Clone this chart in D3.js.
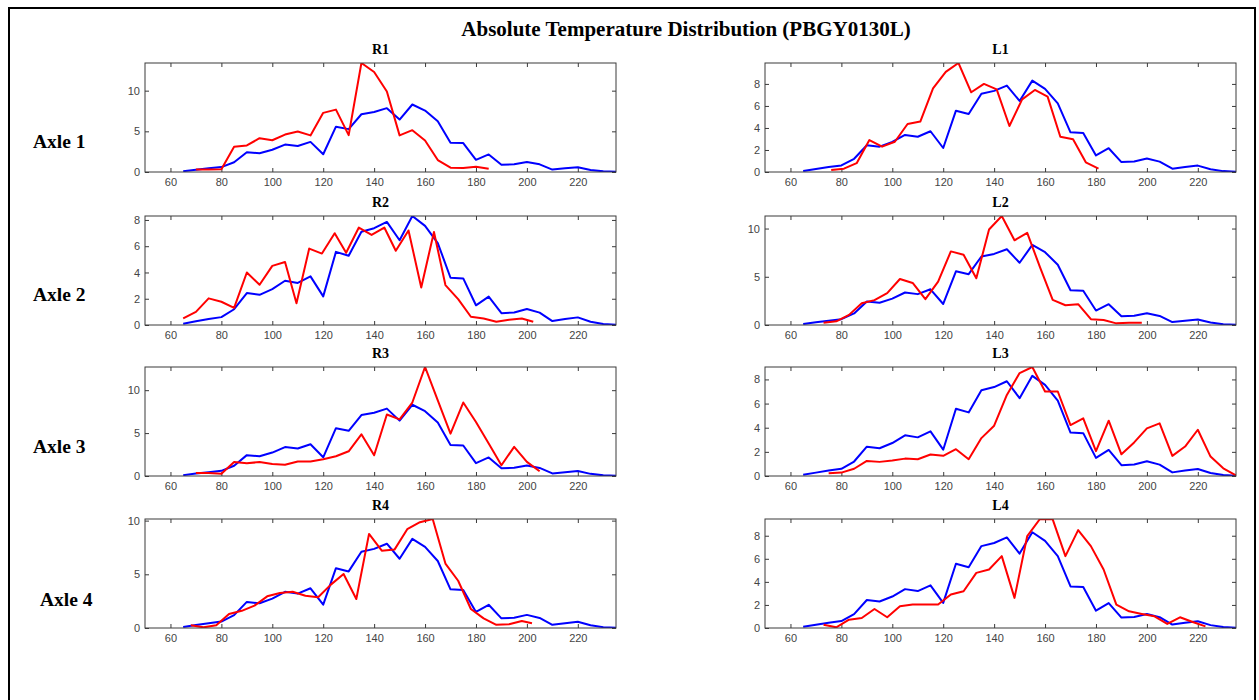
<!DOCTYPE html>
<html><head><meta charset="utf-8">
<script src="https://cdn.jsdelivr.net/npm/d3@7"></script>
<style>body{margin:0;background:#fff;overflow:hidden}</style>
</head><body>
<svg id="chart" width="1259" height="700"></svg>
<script>
// ---------- DATA ----------
const mainTitle = "Absolute Temperature Distribution (PBGY0130L)";
const axleLabels = ["Axle 1", "Axle 2", "Axle 3", "Axle 4"];
const xTicks = [60, 80, 100, 120, 140, 160, 180, 200, 220];

// reference distribution (blue), identical in every panel
const blueX = [65,70,75,80,85,90,95,100,105,110,115,120,125,130,135,140,145,150,155,160,165,170,175,180,185,190,195,200,205,210,215,220,225,230,235];
const blueY = [0.1,0.28,0.45,0.6,1.2,2.43,2.3,2.73,3.37,3.2,3.7,2.18,5.57,5.27,7.1,7.37,7.85,6.45,8.3,7.55,6.24,3.6,3.55,1.5,2.16,0.9,0.95,1.22,0.94,0.3,0.45,0.58,0.25,0.08,0.02];

// wheel distributions (red)
const r1X = [70,75,80,85,90,95,100,105,110,115,120,125,130,135,140,145,150,155,160,165,170,175,180,185];
const r1Y = [0.3,0.3,0.35,3.1,3.27,4.15,3.9,4.6,4.98,4.5,7.27,7.67,4.53,13.4,12.3,9.9,4.5,5.14,3.88,1.47,0.53,0.49,0.65,0.4];

const r2X = [65,70,75,80,85,90,95,100,105,109.5,114.5,119.5,124.5,129,134,139,144,148.5,153.5,158.5,163.5,168,173,178,183,188,193,198,202.5];
const r2Y = [0.5,1.0,2.03,1.77,1.3,4.0,3.06,4.5,4.8,1.65,5.82,5.44,6.99,5.5,7.42,6.86,7.42,5.65,7.2,2.86,7.08,3.04,1.97,0.63,0.5,0.25,0.4,0.5,0.25];

const r3X = [70,75,80,85,90,95,100,105,110,115,120,125,130,135,140,145,150,155,160,165,170,175,180,185,190,195,200,205];
const r3Y = [0.35,0.35,0.25,1.63,1.48,1.63,1.4,1.32,1.7,1.7,1.95,2.3,2.88,4.86,2.41,7.16,6.6,8.56,12.7,8.8,4.94,8.56,6.3,3.8,1.25,3.4,1.64,0.55];

const r4X = [68,73,78,83,88,93,98,103,108,113,118,123,128,133,138,143,148,153,158,163,168,173,178,183,188,193,198,202];
const r4Y = [0.25,0.06,0.25,1.3,1.6,2.08,2.95,3.26,3.38,3.0,2.86,4.04,5.03,2.7,8.76,7.2,7.3,9.2,9.85,10.15,6.0,4.4,1.77,0.9,0.3,0.35,0.65,0.44];

const l1X = [76,81,86,91,96,101,106,111,116,121,126,131,136,141,146,151,156,161,166,171,176,181];
const l1Y = [0.18,0.3,0.8,2.9,2.3,2.75,4.36,4.58,7.6,9.1,9.9,7.24,8.0,7.5,4.18,6.6,7.45,6.85,3.2,2.97,0.88,0.3];

const l2X = [73,78,83,88,93,98,103,108,113,118,123,128,133,138,143,148,153,158,163,168,173,178,183,188,193,198];
const l2Y = [0.24,0.38,1.05,2.26,2.58,3.3,4.77,4.36,2.68,4.5,7.63,7.28,4.84,9.9,11.3,8.78,9.55,6.0,2.6,2.05,2.16,0.6,0.52,0.17,0.24,0.24];

const l3X = [75,80,85,90,95,100,105,110,115,120,125,130,135,140,145,150,155,160,165,170,175,180,185,190,195,200,205,210,215,220,225,230,235];
const l3Y = [0.22,0.28,0.6,1.25,1.17,1.28,1.44,1.39,1.78,1.67,2.22,1.39,3.14,4.17,6.72,8.53,9.03,7.0,7.0,4.22,4.78,2.06,4.58,1.8,2.78,3.94,4.36,1.67,2.44,3.83,1.61,0.64,0.05];

const l4X = [73,78,83,88,93,98,103,108,113,118,123,128,133,138,143,148,153,158,163,168,173,178,183,188,193,198,203,208,213,218,223];
const l4Y = [0.29,0.06,0.72,0.87,1.65,0.93,1.88,2.03,2.03,2.03,2.9,3.19,4.78,5.07,6.23,2.61,7.97,9.45,9.42,6.23,8.49,7.1,5.07,2.03,1.45,1.22,1.01,0.35,0.93,0.52,0.14];

const yTicks5 = [0, 5, 10];
const yTicks2 = [0, 2, 4, 6, 8];

const panels = [
  {name:"R1", col:0, row:0, rx:r1X, ry:r1Y, yt:yTicks5},
  {name:"L1", col:1, row:0, rx:l1X, ry:l1Y, yt:yTicks2},
  {name:"R2", col:0, row:1, rx:r2X, ry:r2Y, yt:yTicks2},
  {name:"L2", col:1, row:1, rx:l2X, ry:l2Y, yt:yTicks5},
  {name:"R3", col:0, row:2, rx:r3X, ry:r3Y, yt:yTicks5},
  {name:"L3", col:1, row:2, rx:l3X, ry:l3Y, yt:yTicks2},
  {name:"R4", col:0, row:3, rx:r4X, ry:r4Y, yt:yTicks5},
  {name:"L4", col:1, row:3, rx:l4X, ry:l4Y, yt:yTicks2}
];

// ---------- LAYOUT ----------
const colLeft = [145, 765];
const rowTop = [63, 216, 367, 519];
const pw = 471, ph = 109;
const axisColor = "#3a3a3a";
const serif = "'Liberation Serif','Times New Roman',serif";
const sans = "'Liberation Sans',Arial,Helvetica,sans-serif";

const svg = d3.select("#chart");

// outer frame
svg.append("rect").attr("x", 9).attr("y", 8).attr("width", 1246).attr("height", 705)
  .attr("fill", "none").attr("stroke", "#000").attr("stroke-width", 2);

svg.append("text").attr("x", 686).attr("y", 36).attr("text-anchor", "middle")
  .style("font-family", serif).style("font-weight", "bold").style("font-size", "21px")
  .text(mainTitle);

const axleX = [33, 33, 33, 40];
const axleY = [148, 301, 453, 606];
axleLabels.forEach((t, i) => {
  svg.append("text").attr("x", axleX[i]).attr("y", axleY[i])
    .style("font-family", serif).style("font-weight", "bold").style("font-size", "19.5px")
    .text(t);
});

panels.forEach((p, i) => {
  const left = colLeft[p.col], top = rowTop[p.row];
  const yMax = d3.max([d3.max(blueY), d3.max(p.ry)]);
  const x = d3.scaleLinear().domain([50, 235]).range([left, left + pw]);
  const y = d3.scaleLinear().domain([0, yMax]).range([top + ph, top]);
  const g = svg.append("g");

  const clipId = "clip" + i;
  svg.append("clipPath").attr("id", clipId).append("rect")
    .attr("x", left).attr("y", top).attr("width", pw).attr("height", ph);

  const styleAxis = sel => {
    sel.select(".domain").remove();
    sel.selectAll(".tick line").attr("stroke", axisColor);
    sel.selectAll(".tick text").attr("fill", "#444").style("font-family", sans).style("font-size", "11px");
  };

  g.append("g").attr("transform", `translate(0,${top + ph})`)
    .call(d3.axisBottom(x).tickValues(xTicks).tickSizeInner(-4).tickSizeOuter(0).tickPadding(6.5))
    .call(styleAxis);
  g.append("g").attr("transform", `translate(0,${top})`)
    .call(d3.axisTop(x).tickValues(xTicks).tickSizeInner(-4).tickSizeOuter(0).tickFormat(""))
    .call(styleAxis);
  g.append("g").attr("transform", `translate(${left},0)`)
    .call(d3.axisLeft(y).tickValues(p.yt).tickSizeInner(-4).tickSizeOuter(0).tickPadding(5))
    .call(styleAxis);
  g.append("g").attr("transform", `translate(${left + pw},0)`)
    .call(d3.axisRight(y).tickValues(p.yt).tickSizeInner(-4).tickSizeOuter(0).tickFormat(""))
    .call(styleAxis);

  const line = d3.line().x(d => x(d[0])).y(d => y(d[1]));
  const lg = g.append("g").attr("clip-path", `url(#${clipId})`);
  lg.append("path").datum(d3.zip(blueX, blueY)).attr("d", line)
    .attr("fill", "none").attr("stroke", "#0000ff").attr("stroke-width", 2).attr("stroke-linejoin", "round");
  lg.append("path").datum(d3.zip(p.rx, p.ry)).attr("d", line)
    .attr("fill", "none").attr("stroke", "#ff0000").attr("stroke-width", 2).attr("stroke-linejoin", "round");

  g.append("rect").attr("x", left).attr("y", top).attr("width", pw).attr("height", ph)
    .attr("fill", "none").attr("stroke", axisColor).attr("stroke-width", 1);

  g.append("text").attr("x", left + pw / 2).attr("y", top - 9).attr("text-anchor", "middle")
    .style("font-family", serif).style("font-weight", "bold").style("font-size", "14px")
    .text(p.name);
});
</script>
</body></html>
